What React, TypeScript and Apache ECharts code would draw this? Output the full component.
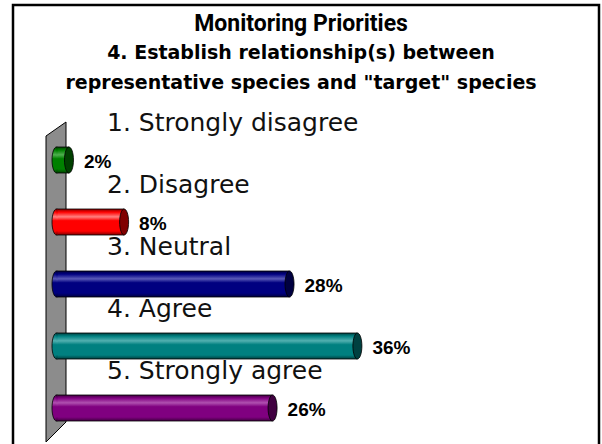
import React, { useEffect, useRef } from "react";
import * as echarts from "echarts";

const categories = [
  "1. Strongly disagree",
  "2. Disagree",
  "3. Neutral",
  "4. Agree",
  "5. Strongly agree",
];
const barValues = [2, 8.5, 28, 36, 26];
const valueLabels = ["2%", "8%", "28%", "36%", "26%"];
const baseColors = ["#008000", "#ff0000", "#000080", "#008080", "#800080"];
const lightColors = ["#4fb04f", "#ff8080", "#5a5ab8", "#52b0b0", "#b050b0"];
const darkColors = ["#004000", "#800000", "#000040", "#004040", "#400040"];

const titleLines = [
  "Monitoring Priorities",
  "4. Establish relationship(s) between",
  'representative species and "target" species',
];

export default function App() {
  const ref = useRef<HTMLDivElement>(null);
  useEffect(() => {
    if (!ref.current) return;
    const chart = echarts.init(ref.current, null, { renderer: "svg" });
    const BAR_H = 26;
    const CAP_RX = 4.5;
    chart.setOption({
      animation: false,
      backgroundColor: "#ffffff",
      title: [
        {
          text: titleLines[0],
          left: "center",
          top: 7,
          textStyle: { fontFamily: "Roboto", fontWeight: "bold", fontSize: 23, color: "#000" },
        },
        {
          text: titleLines[1],
          left: "center",
          top: 37,
          textStyle: { fontFamily: "DejaVu Sans", fontWeight: "bold", fontSize: 19, color: "#000" },
        },
        {
          text: titleLines[2],
          left: "center",
          top: 67,
          textStyle: { fontFamily: "DejaVu Sans", fontWeight: "bold", fontSize: 19, color: "#000" },
        },
      ],
      graphic: [
        {
          type: "rect",
          shape: { x: 13, y: 5, width: 586, height: 460 },
          style: { fill: "none", stroke: "#000", lineWidth: 2.5 },
          z: 10,
        },
        {
          type: "polygon",
          shape: { points: [[46, 136], [66, 122], [66, 422], [46, 442]] },
          style: { fill: "#8c8c8c", stroke: "#000", lineWidth: 1 },
          z: 0,
        },
      ],
      grid: { left: 52, width: 509, top: 129, height: 310 },
      xAxis: { type: "value", min: 0, max: 60, show: false },
      yAxis: { type: "category", data: categories, inverse: true, show: false },
      series: [
        {
          type: "custom",
          z: 5,
          data: barValues.map((v, i) => [v, i]),
          renderItem: (params: any, api: any) => {
            const v = api.value(0);
            const i = api.value(1);
            const p0 = api.coord([0, i]);
            const p1 = api.coord([v, i]);
            const cy = p0[1];
            const x0 = p0[0] + CAP_RX;
            const x1 = p1[0];
            const grad = new echarts.graphic.LinearGradient(0, 0, 0, 1, [
              { offset: 0, color: darkColors[i] },
              { offset: 0.12, color: baseColors[i] },
              { offset: 0.3, color: lightColors[i] },
              { offset: 0.45, color: baseColors[i] },
              { offset: 0.85, color: baseColors[i] },
              { offset: 1, color: darkColors[i] },
            ]);
            return {
              type: "group",
              children: [
                {
                  type: "ellipse",
                  shape: { cx: x0, cy, rx: CAP_RX, ry: BAR_H / 2 },
                  style: { fill: grad, stroke: "#000", lineWidth: 0.8 },
                },
                {
                  type: "rect",
                  shape: { x: x0, y: cy - BAR_H / 2, width: Math.max(0, x1 - x0), height: BAR_H },
                  style: { fill: grad, stroke: "#000", lineWidth: 0.8 },
                },
                {
                  type: "rect",
                  shape: { x: x0 - 0.5, y: cy - BAR_H / 2 + 0.6, width: 2, height: BAR_H - 1.2 },
                  style: { fill: grad },
                },
                {
                  type: "ellipse",
                  shape: { cx: x1, cy, rx: CAP_RX, ry: BAR_H / 2 },
                  style: { fill: darkColors[i], stroke: "#000", lineWidth: 0.8 },
                },
                {
                  type: "text",
                  style: {
                    text: valueLabels[i],
                    x: x1 + 15,
                    y: cy + 1,
                    fill: "#000",
                    font: "bold 19px 'Liberation Sans', Arial, sans-serif",
                    textAlign: "left",
                    textVerticalAlign: "middle",
                  },
                },
                {
                  type: "text",
                  style: {
                    text: categories[i],
                    x: 107,
                    y: cy - 25,
                    fill: "#111",
                    font: "25px 'DejaVu Sans', sans-serif",
                    textAlign: "left",
                    textVerticalAlign: "bottom",
                  },
                },
              ],
            };
          },
        },
      ],
    });
    return () => chart.dispose();
  }, []);
  return (
    <div
      ref={ref}
      style={{ position: "fixed", left: 0, top: 0, width: 602, height: 444 }}
    />
  );
}
